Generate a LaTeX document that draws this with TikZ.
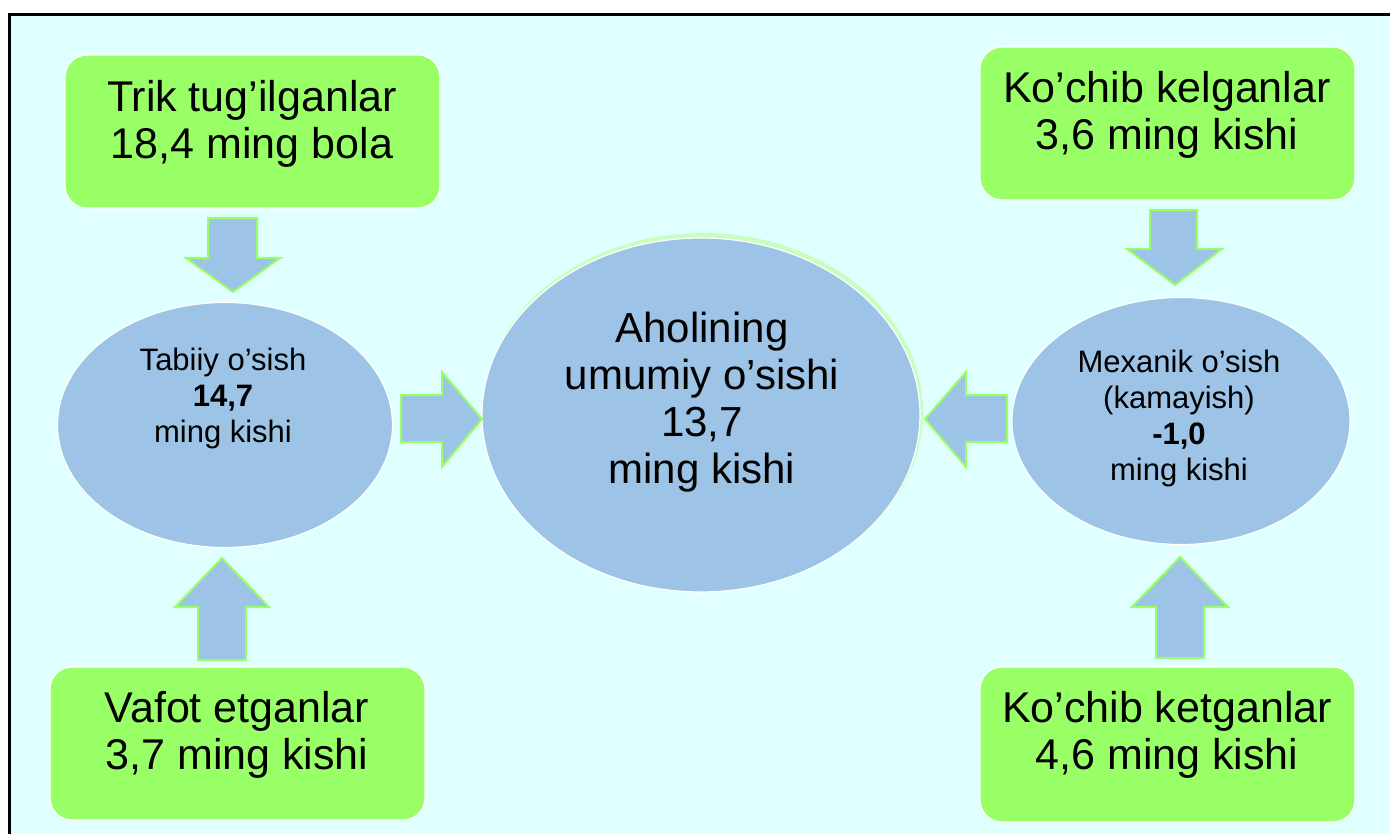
\documentclass[tikz,border=0pt]{standalone}
\usepackage{fontspec}
\setmainfont{Liberation Sans}
\usetikzlibrary{shapes.geometric}
\definecolor{bg}{HTML}{E0FFFF}
\definecolor{boxgreen}{HTML}{99FF66}
\definecolor{ellblue}{HTML}{9DC3E6}
\definecolor{glow}{HTML}{C8FFC0}
\begin{document}
\begin{tikzpicture}[x=1pt,y=-1pt,
  greenbox/.style={draw=white, line width=1.2pt, fill=boxgreen, rounded corners=22pt,
    minimum width=375pt, minimum height=153pt, inner sep=0pt},
  bigtext/.style={align=center, font=\fontsize{43}{47}\selectfont, inner sep=0pt},
  centertext/.style={align=center, font=\fontsize{42}{47}\selectfont, inner sep=0pt},
  smalltext/.style={align=center, font=\fontsize{31}{36}\selectfont, inner sep=0pt},
  ell/.style={ellipse, draw=white, line width=1.2pt, fill=ellblue, inner sep=0pt},
  blockarrow/.style={draw=boxgreen, line width=2pt, fill=ellblue, line join=miter}]
\useasboundingbox (0,0) rectangle (1390,834);
\fill[white] (0,0) rectangle (1390,834);
\fill[bg] (9,15) rectangle (1390,834);
\draw[line width=3pt] (9,834) -- (9,15) -- (1390,15);

% green boxes
\node[greenbox] (trik) at (252.5,131.5) {};
\node[greenbox] (kel) at (1167.5,123.5) {};
\node[greenbox] (vafot) at (237.5,743.5) {};
\node[greenbox, minimum height=155pt] (ket) at (1167.5,744.5) {};

\node[bigtext] (triktxt) at (252,124) {Trik tug’ilganlar\\18,4 ming bola};
\node[bigtext] (keltxt) at (1167,115) {Ko’chib kelganlar\\3,6 ming kishi};
\node[bigtext] (vafottxt) at (237,735) {Vafot etganlar\\3,7 ming kishi};
\node[bigtext] (kettxt) at (1167,735) {Ko’chib ketganlar\\4,6 ming kishi};

% ellipses
\node[ellipse, fill=glow, minimum width=440pt, minimum height=358pt, inner sep=0pt] (glowell) at (703,412) {};
\node[ell, minimum width=438pt, minimum height=354pt] (center) at (701,415) {};
\node[ell, minimum width=335pt, minimum height=245pt] (left) at (225,425) {};
\node[ell, minimum width=338pt, minimum height=247pt] (right) at (1181,421) {};

\node[centertext] (centertxt) at (702,402) {Aholining\\umumiy o’sishi\\13,7\\ming kishi};
\node[smalltext] (lefttxt) at (223,398) {Tabiiy o’sish\\\textbf{14,7}\\ming kishi};
\node[smalltext] (righttxt) at (1179,418) {Mexanik o’sish\\(kamayish)\\\textbf{-1,0}\\ming kishi};

% block arrows
\draw[blockarrow] (208,218) -- (257,218) -- (257,258) -- (280,258) -- (233,292) -- (186,258) -- (208,258) -- cycle;
\draw[blockarrow] (198,660) -- (246,660) -- (246,607) -- (269,607) -- (222,558) -- (175,607) -- (198,607) -- cycle;
\draw[blockarrow] (401,395) -- (442,395) -- (442,372) -- (482,419) -- (442,467) -- (442,442) -- (401,442) -- cycle;
\draw[blockarrow] (1007,395) -- (966,395) -- (966,372) -- (925,419) -- (966,467) -- (966,442) -- (1007,442) -- cycle;
\draw[blockarrow] (1150,210) -- (1197,210) -- (1197,249) -- (1222,249) -- (1175,285) -- (1127,249) -- (1150,249) -- cycle;
\draw[blockarrow] (1156,658) -- (1204,658) -- (1204,607) -- (1228,607) -- (1180,557) -- (1132,607) -- (1156,607) -- cycle;
\end{tikzpicture}
\end{document}
